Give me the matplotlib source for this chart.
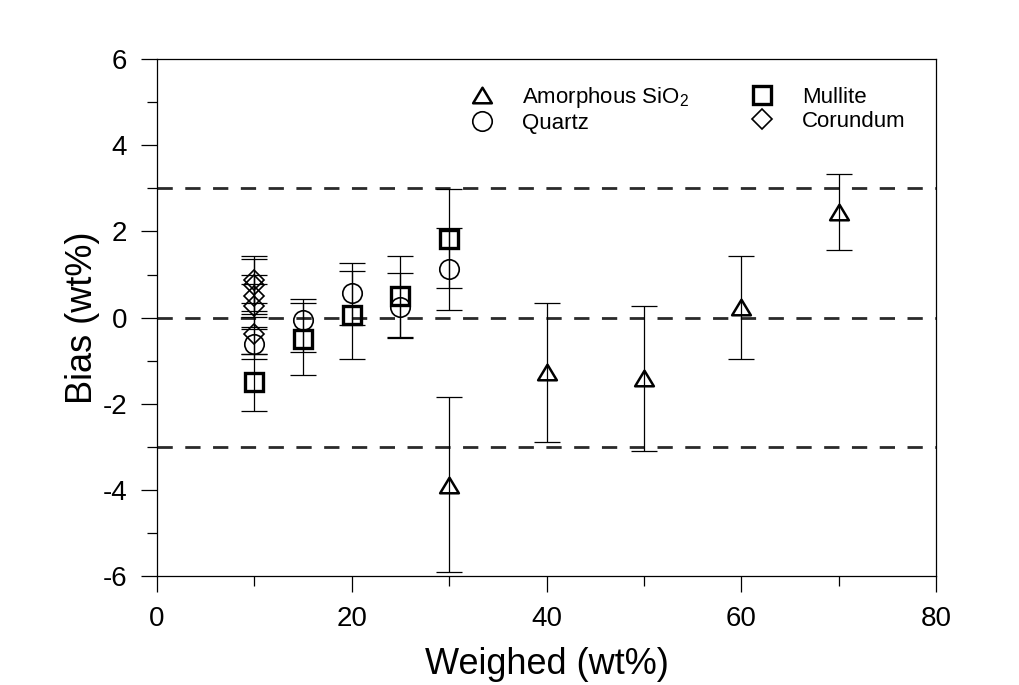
import matplotlib
matplotlib.use("Agg")
import matplotlib.pyplot as plt
from matplotlib.ticker import MultipleLocator
from matplotlib.path import Path

plt.rcParams['font.family'] = ['Liberation Sans', 'DejaVu Sans']
plt.rcParams['mathtext.fontset'] = 'custom'
plt.rcParams['mathtext.rm'] = 'Liberation Sans'
plt.rcParams['axes.unicode_minus'] = False

# Data
amorph_x = [30, 40, 50, 60, 70]
amorph_y = [-3.88, -1.27, -1.41, 0.24, 2.46]
amorph_err = [2.03, 1.62, 1.68, 1.20, 0.88]

quartz_x = [10, 15, 20, 25, 30]
quartz_y = [-0.62, -0.05, 0.56, 0.24, 1.13]
quartz_err_lo = [0.34, 0.75, 0.72, 0.72, 0.95]
quartz_err_hi = [0.36, 0.48, 0.71, 0.79, 0.96]

mullite_x = [10, 15, 20, 25, 30]
mullite_y = [-1.50, -0.49, 0.07, 0.50, 1.83]
mullite_err = [0.66, 0.84, 1.02, 0.94, 1.15]

corundum_x = [10, 10, 10, 10, 10]
corundum_y = [0.88, 0.75, 0.50, 0.28, -0.38]
corundum_err = [0.54, 0.60, 0.48, 0.50, 0.46]

ref_lines = [3, 0, -3]

fig = plt.figure(figsize=(10.2, 6.85), dpi=100)
ax = fig.add_axes([0.154, 0.1587, 0.7636, 0.7552])

for yv in ref_lines:
    ax.axhline(yv, color='#2a2a2a', lw=2.0, dashes=(5.5, 4.5), zorder=1)

tri = Path([(0, 0.83), (-1, -0.83), (1, -0.83), (0, 0.83)],
           [Path.MOVETO, Path.LINETO, Path.LINETO, Path.CLOSEPOLY])

bar_style = dict(fmt='none', ecolor='black', elinewidth=0.9, capsize=9.5,
                 capthick=0.9, zorder=2)
mk_style = dict(linestyle='none', mfc='none', mec='black', zorder=3)

ax.errorbar(amorph_x, amorph_y, yerr=amorph_err, **bar_style)
ax.errorbar(quartz_x, quartz_y, yerr=[quartz_err_lo, quartz_err_hi], **bar_style)
ax.errorbar(mullite_x, mullite_y, yerr=mullite_err, **bar_style)
ax.errorbar(corundum_x, corundum_y, yerr=corundum_err, **bar_style)

h1, = ax.plot(amorph_x, amorph_y, marker=tri, ms=13.5, mew=1.8,
              label=r'Amorphous SiO$\mathregular{_2}$', **mk_style)
h2, = ax.plot(quartz_x, quartz_y, marker='o', ms=14, mew=1.2,
              label='Quartz', **mk_style)
h3, = ax.plot(mullite_x, mullite_y, marker='s', ms=13, mew=2.4,
              label='Mullite', **mk_style)
h4, = ax.plot(corundum_x, corundum_y, marker='D', ms=10, mew=1.2,
              label='Corundum', **mk_style)

ax.set_xlim(0, 80)
ax.set_ylim(-6, 6)
ax.xaxis.set_major_locator(MultipleLocator(20))
ax.xaxis.set_minor_locator(MultipleLocator(10))
ax.yaxis.set_major_locator(MultipleLocator(2))
ax.yaxis.set_minor_locator(MultipleLocator(1))
ax.tick_params(which='major', direction='out', length=11.5, width=0.9,
               labelsize=20, pad=10)
ax.tick_params(which='minor', direction='out', length=7, width=0.9)
for s in ax.spines.values():
    s.set_linewidth(0.9)

ax.set_xlabel('Weighed (wt%)', fontsize=26, labelpad=11)
ax.set_ylabel('Bias (wt%)', fontsize=26, labelpad=2)

leg = ax.legend(handles=[h1, h2, h3, h4], ncol=2, loc='upper left',
                bbox_to_anchor=(0.377, 0.989),
                frameon=False, fontsize=16, handlelength=1.0,
                handletextpad=1.3, columnspacing=2.78, labelspacing=0.16,
                numpoints=1)

fig.savefig('out.png', dpi=100)
